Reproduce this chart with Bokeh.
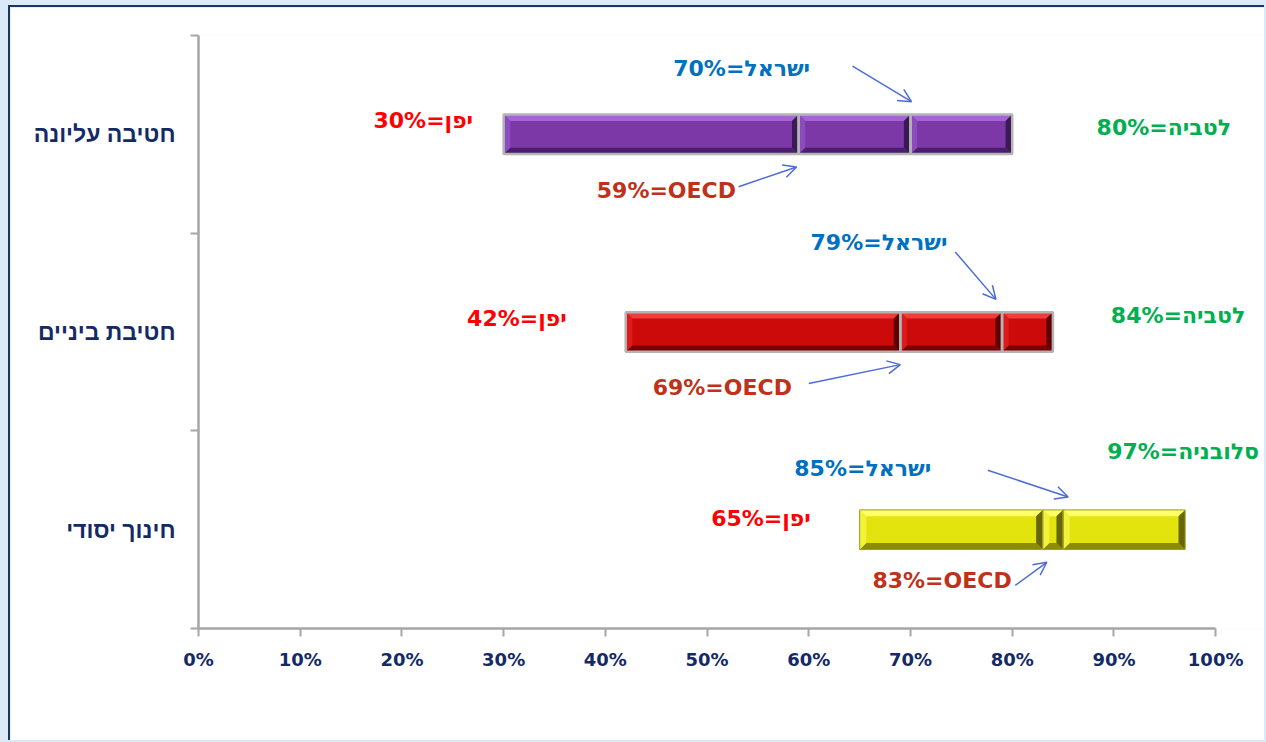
from bokeh.plotting import figure
from bokeh.models import (Range1d, FixedTicker, PrintfTickFormatter, Label, Arrow,
                          OpenHead, ColumnDataSource, GlobalInlineStyleSheet)
from bokeh.embed import file_html
from bokeh.resources import INLINE

# ---------------- data ----------------
levels = ["חינוך יסודי", "חטיבת ביניים", "חטיבה עליונה"]   # bottom -> top
japan = [65, 42, 30]
oecd = [83, 69, 59]
israel = [85, 79, 70]
top_value = [97, 84, 80]
top_country = ["סלובניה", "לטביה", "לטביה"]
x_ticks = [0, 10, 20, 30, 40, 50, 60, 70, 80, 90, 100]

# ---------------- styles / layout ----------------
bar_h = 0.2
bev_x = 0.65
bev_y = 0.032
palettes = [
    dict(face="#E3E30E", top="#FFFF6A", bottom="#8C8C00", left="#F2F23C", right="#66660A", line="#9C9C1C", lw=1),
    dict(face="#CC0A0A", top="#F23C3C", bottom="#7A0000", left="#DE1A1A", right="#5E0000", line="#B4B4B4", lw=2.5),
    dict(face="#7B38A6", top="#A466D6", bottom="#4A1E6A", left="#8C4BBE", right="#3B1956", line="#B4B4B4", lw=2.5),
]
navy = "#142A66"
blue = "#0070C0"
red = "#FF0000"
green = "#00B050"
oecd_col = "#C0311A"
arrow_col = "#4D6BD6"
font = "DejaVu Sans"

# label positions (data units) per category, bottom -> top
israel_lbl = [(65.3, 0.81), (66.9, 1.953), (53.4, 2.833)]
japan_lbl = [(55.3, 0.556), (31.3, 1.568), (22.1, 2.570)]
top_lbl = [(96.8, 0.895), (96.3, 1.583), (94.9, 2.535)]
oecd_lbl = [(73.1, 0.243), (51.5, 1.219), (46.0, 2.216)]
# arrow start offsets relative to arrow tip
israel_arrow_off = [(-7.9, 0.136), (-4.0, 0.24), (-5.8, 0.18)]
israel_tip_dx = [0.5, -0.6, 0.1]
oecd_arrow_off = [(-3.1, -0.117), (-9.0, -0.096), (-5.7, -0.10)]
oecd_tip_dx = [0.4, 0.0, -0.2]
tip_gap = 0.065

p = figure(width=1256, height=735, output_backend="svg", toolbar_location=None,
           x_range=Range1d(0, 105), y_range=Range1d(0, 3),
           min_border_left=188, min_border_right=0, min_border_top=28, min_border_bottom=114)
p.grid.visible = False
p.outline_line_color = None
p.background_fill_color = "white"
p.border_fill_color = "white"
p.styles = {"border-left": "2px solid #17375E", "border-top": "2px solid #17375E"}

# ---------------- bars ----------------
for i in range(3):
    yc = i + 0.5
    b, t = yc - bar_h / 2, yc + bar_h / 2
    edges = [japan[i], oecd[i], israel[i], top_value[i]]
    L = edges[:-1]
    R = edges[1:]
    pal = palettes[i]
    p.quad(left=L, right=R, bottom=[b] * 3, top=[t] * 3, fill_color=pal["face"], line_color=None)
    tops_x, tops_y, bots_x, bots_y, lefts_x, lefts_y, rights_x, rights_y = [], [], [], [], [], [], [], []
    for l, r in zip(L, R):
        bx = min(bev_x, (r - l) / 3)
        tops_x.append([l, r, r - bx, l + bx]); tops_y.append([t, t, t - bev_y, t - bev_y])
        bots_x.append([l, r, r - bx, l + bx]); bots_y.append([b, b, b + bev_y, b + bev_y])
        lefts_x.append([l, l, l + bx, l + bx]); lefts_y.append([b, t, t - bev_y, b + bev_y])
        rights_x.append([r, r, r - bx, r - bx]); rights_y.append([b, t, t - bev_y, b + bev_y])
    p.patches(tops_x, tops_y, fill_color=pal["top"], line_color=None)
    p.patches(bots_x, bots_y, fill_color=pal["bottom"], line_color=None)
    p.patches(lefts_x, lefts_y, fill_color=pal["left"], line_color=None)
    p.patches(rights_x, rights_y, fill_color=pal["right"], line_color=None)
    p.quad(left=L, right=R, bottom=[b] * 3, top=[t] * 3, fill_color=None,
           line_color=pal["line"], line_width=pal["lw"])

# ---------------- labels ----------------
def add_label(x, y, text, color, size="22px"):
    p.add_layout(Label(x=x, y=y, text=text, text_align="center", text_baseline="middle",
                       text_font=font, text_font_style="bold", text_font_size=size,
                       text_color=color))

for i in range(3):
    add_label(*israel_lbl[i], f"{israel[i]}%=ישראל", blue)
    add_label(*japan_lbl[i], f"{japan[i]}%=יפן", red)
    add_label(*top_lbl[i], f"{top_value[i]}%={top_country[i]}", green)
    add_label(*oecd_lbl[i], f"{oecd[i]}%=OECD", oecd_col)

# ---------------- arrows ----------------
xs0, ys0, xs1, ys1 = [], [], [], []
for i in range(3):
    yc = i + 0.5
    tx = israel[i] + israel_tip_dx[i]
    ty = yc + bar_h / 2 + tip_gap
    xs1.append(tx); ys1.append(ty)
    xs0.append(tx + israel_arrow_off[i][0]); ys0.append(ty + israel_arrow_off[i][1])
    tx = oecd[i] + oecd_tip_dx[i]
    ty = yc - bar_h / 2 - tip_gap
    xs1.append(tx); ys1.append(ty)
    xs0.append(tx + oecd_arrow_off[i][0]); ys0.append(ty + oecd_arrow_off[i][1])
arrow_src = ColumnDataSource(dict(x0=xs0, y0=ys0, x1=xs1, y1=ys1))
p.add_layout(Arrow(source=arrow_src, x_start="x0", y_start="y0", x_end="x1", y_end="y1",
                   line_color=arrow_col, line_width=1.5,
                   end=OpenHead(size=13, line_color=arrow_col, line_width=1.5)))

# ---------------- axes ----------------
xa = p.xaxis[0]
xa.bounds = (0, 100)
xa.ticker = FixedTicker(ticks=x_ticks, minor_ticks=[])
xa.formatter = PrintfTickFormatter(format="%d%%")
xa.axis_line_color = "#A6A6A6"
xa.axis_line_width = 2.5
xa.major_tick_line_color = "#A6A6A6"
xa.major_tick_line_width = 2
xa.major_tick_out = 8
xa.major_tick_in = 0
xa.minor_tick_line_color = None
xa.major_label_standoff = 12
xa.major_label_text_font = font
xa.major_label_text_font_style = "bold"
xa.major_label_text_font_size = "18px"
xa.major_label_text_color = navy

ya = p.yaxis[0]
ya.ticker = FixedTicker(ticks=[0.5, 1.5, 2.5], minor_ticks=[0, 1, 2, 3])
ya.major_label_overrides = {0.5: levels[0], 1.5: levels[1], 2.5: levels[2]}
ya.axis_line_color = "#A6A6A6"
ya.axis_line_width = 2.5
ya.major_tick_line_color = None
ya.major_tick_out = 0
ya.major_tick_in = 0
ya.minor_tick_line_color = "#A6A6A6"
ya.minor_tick_line_width = 2
ya.minor_tick_out = 8
ya.minor_tick_in = 0
ya.major_label_standoff = 15
ya.major_label_text_font = "Liberation Sans"
ya.major_label_text_font_style = "bold"
ya.major_label_text_font_size = "23px"
ya.major_label_text_color = navy

p.stylesheets = [GlobalInlineStyleSheet(css="body { background: #DCEAF8; padding: 5px 0 0 8px; }")]

open("out.html", "w").write(file_html(p, INLINE))
